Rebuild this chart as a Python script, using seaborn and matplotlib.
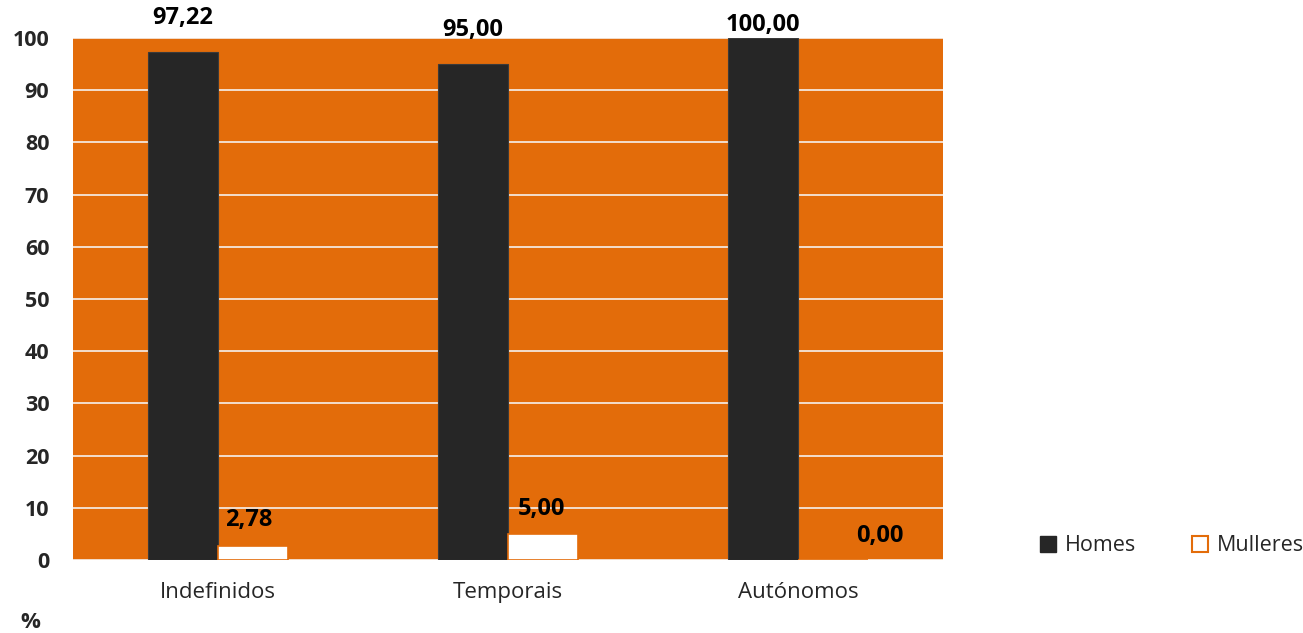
import matplotlib
matplotlib.use("Agg")
import matplotlib.pyplot as plt
from matplotlib.patches import Patch
import seaborn as sns
import pandas as pd

# data
categories = ["Indefinidos", "Temporais", "Autónomos"]
homes = [97.22, 95.00, 100.00]
mulleres = [2.78, 5.00, 0.00]
series = ["Homes", "Mulleres"]

orange = "#E36C0A"
dark = "#262626"

df = pd.DataFrame({
    "categoria": categories * 2,
    "sexo": ["Homes"] * 3 + ["Mulleres"] * 3,
    "valor": homes + mulleres,
})

sns.set_style("white")
plt.rcParams["font.family"] = ["Open Sans", "DejaVu Sans"]

fig = plt.figure(figsize=(13.03, 6.33), dpi=100)
ax = fig.add_axes([0.056, 0.1153, 0.6677, 0.8247])
ax.set_facecolor(orange)

sns.barplot(data=df, x="categoria", y="valor", hue="sexo", order=categories,
            hue_order=series, palette=[dark, "white"], width=0.48,
            saturation=1, ax=ax, legend=False)

for bar in ax.containers[0]:
    bar.set_edgecolor("#3a3a3a")
    bar.set_linewidth(0.8)
for bar in ax.containers[1]:
    bar.set_edgecolor(orange)
    bar.set_linewidth(1.2)

ax.set_ylim(0, 100)
ax.set_xlim(-0.5, 2.5)
ax.set_yticks(range(0, 101, 10))
ax.yaxis.grid(True, color="#f4e6dc", linewidth=1.3)
ax.set_axisbelow(True)
for s in ax.spines.values():
    s.set_visible(False)
ax.tick_params(axis="y", length=0, pad=17, labelsize=15.5)
ax.tick_params(axis="x", length=0, pad=16, labelsize=16)
for t in ax.get_yticklabels():
    t.set_fontweight("bold")
ax.set_xlabel("")
ax.set_ylabel("")

# value labels (offsets in points)
offsets = [[(0, 16), (-3, 10)], [(0, 16), (-1, 9)], [(0, 1), (34, 9)]]
for j, cont in enumerate(ax.containers):
    for i, bar in enumerate(cont):
        v = bar.get_height()
        dx, dy = offsets[i][j]
        ax.annotate(f"{v:.2f}".replace(".", ","),
                    (bar.get_x() + bar.get_width() / 2, v),
                    xytext=(dx, dy), textcoords="offset points",
                    ha="center", va="bottom", fontsize=17, fontweight="bold",
                    color="black", annotation_clip=False)

fig.text(0.016, 0.0, "%", fontsize=16, fontweight="bold", ha="left", va="bottom")

handles = [Patch(facecolor=dark, edgecolor=dark),
           Patch(facecolor="white", edgecolor=orange, linewidth=1.5)]
fig.legend(handles, series, ncol=2, frameon=False, fontsize=15.5,
           loc="center left", bbox_to_anchor=(0.798, 0.138),
           handlelength=0.75, handleheight=0.75, handletextpad=0.4,
           columnspacing=2.6, borderaxespad=0, borderpad=0)

fig.savefig("out.png", dpi=100)
